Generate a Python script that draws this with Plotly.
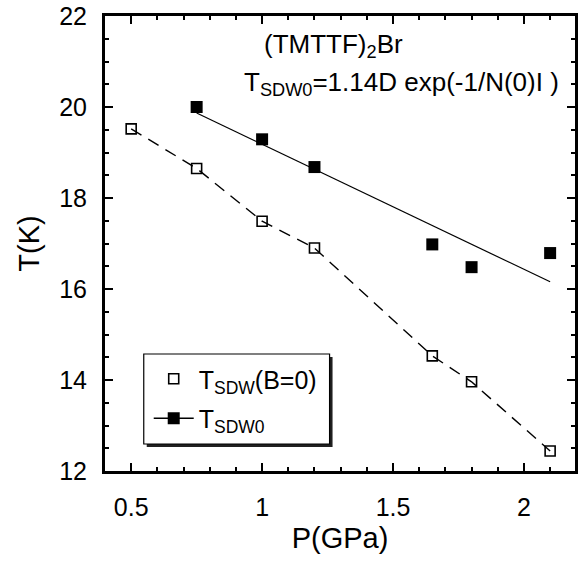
import numpy as np
import plotly.graph_objects as go

# Pressure (GPa) and SDW transition temperatures (K)
pressure_open = [0.5, 0.75, 1.0, 1.2, 1.65, 1.8, 2.1]
t_sdw_b0 = [19.52, 18.65, 17.49, 16.90, 14.53, 13.96, 12.44]

pressure_filled = [0.75, 1.0, 1.2, 1.65, 1.8, 2.1]
t_sdw0 = [20.0, 19.29, 18.68, 16.98, 16.48, 16.79]

x_tick_vals = [0.5, 1, 1.5, 2]
x_tick_text = ["0.5", "1", "1.5", "2"]
y_tick_vals = [12, 14, 16, 18, 20, 22]
y_tick_text = ["12", "14", "16", "18", "20", "22"]

FONT = "Liberation Sans, Arial, sans-serif"

# Plot-area geometry in pixels (used to place the legend frame and labels)
PLOT_L, PLOT_W = 105, 473
PLOT_T, PLOT_H = 16, 455
PLOT_B = PLOT_T + PLOT_H


def px_to_paper(px, py):
    return (px - PLOT_L) / PLOT_W, (PLOT_B - py) / PLOT_H


# Linear fit of T_SDW0 versus pressure
slope, intercept = np.polyfit(pressure_filled, t_sdw0, 1)
fit_x = np.array([min(pressure_filled), max(pressure_filled)])
fit_y = slope * fit_x + intercept

fig = go.Figure()

# Dashed guide through the zero-field points
fig.add_trace(go.Scatter(
    x=pressure_open, y=t_sdw_b0, mode="lines",
    line=dict(color="black", width=1.4, dash="12px,8px"),
    showlegend=False, hoverinfo="skip",
))

# Straight fit line for T_SDW0
fig.add_trace(go.Scatter(
    x=fit_x, y=fit_y, mode="lines",
    line=dict(color="black", width=1.2),
    showlegend=False, hoverinfo="skip",
))

fig.add_trace(go.Scatter(
    x=pressure_open, y=t_sdw_b0, mode="markers",
    name="T<sub>SDW</sub>(B=0)", legendgroup="open",
    marker=dict(symbol="square-open", size=10, color="black", line=dict(width=1.6, color="black")),
))

fig.add_trace(go.Scatter(
    x=pressure_filled, y=t_sdw0, mode="markers",
    showlegend=False,
    marker=dict(symbol="square", size=12, color="black"),
))

# Legend entry for T_SDW0 (line + filled square)
fig.add_trace(go.Scatter(
    x=[None], y=[None], mode="lines+markers",
    name="T<sub>SDW0</sub>", legendgroup="filled",
    line=dict(color="black", width=1.4),
    marker=dict(symbol="square", size=12, color="black"),
))

axis_common = dict(
    showline=True, linecolor="black", linewidth=3, mirror="ticks",
    ticks="inside", tickcolor="black", tickwidth=2, ticklen=8,
    showgrid=False, zeroline=False,
    tickfont=dict(family=FONT, size=25, color="black"),
)

fig.update_xaxes(
    range=[0.4, 2.195], tickvals=x_tick_vals, ticktext=x_tick_text,
    minor=dict(dtick=0.1, ticks="inside", ticklen=4, tickwidth=2, tickcolor="black"),
    title=dict(text="P(GPa)", font=dict(family=FONT, size=29, color="black"), standoff=8),
    ticklabelstandoff=12,
    **axis_common,
)
fig.update_yaxes(
    range=[12, 22], tickvals=y_tick_vals, ticktext=y_tick_text,
    minor=dict(dtick=0.5, ticks="inside", ticklen=4, tickwidth=2, tickcolor="black"),
    title=dict(text="T(K)", font=dict(family=FONT, size=29, color="black"), standoff=12),
    ticklabelstandoff=10,
    **axis_common,
)

# Legend frame with a drop shadow
bx0, by0 = px_to_paper(144, 444)
bx1, by1 = px_to_paper(331, 354)
sx0, sy0 = px_to_paper(147, 447)
sx1, sy1 = px_to_paper(334, 357)
fig.add_shape(type="rect", xref="paper", yref="paper",
              x0=sx0, x1=sx1, y0=sy0, y1=sy1,
              fillcolor="#202020", line=dict(width=0), layer="above")
fig.add_shape(type="rect", xref="paper", yref="paper",
              x0=bx0, x1=bx1, y0=by0, y1=by1,
              fillcolor="white", line=dict(width=1.2, color="black"), layer="above")

fig.add_annotation(
    text="(TMTTF)<sub>2</sub>Br", xref="paper", yref="paper",
    x=px_to_paper(263, 0)[0], y=px_to_paper(0, 46)[1],
    xanchor="left", yanchor="middle", showarrow=False,
    font=dict(family=FONT, size=26, color="black"),
)
fig.add_annotation(
    text="T<sub>SDW0</sub>=1.14D exp(-1/N(0)I )", xref="paper", yref="paper",
    x=px_to_paper(564, 0)[0], y=px_to_paper(0, 83)[1],
    xanchor="right", yanchor="middle", showarrow=False,
    font=dict(family=FONT, size=26, color="black"),
)

lx, ly = px_to_paper(149, 356)
fig.update_layout(
    width=579, height=564, autosize=False,
    margin=dict(l=PLOT_L, r=579 - PLOT_L - PLOT_W, t=PLOT_T, b=564 - PLOT_B),
    paper_bgcolor="white", plot_bgcolor="white",
    font=dict(family=FONT, color="black"),
    legend=dict(
        x=lx, y=ly, xanchor="left", yanchor="top",
        bgcolor="rgba(0,0,0,0)", borderwidth=0,
        font=dict(family=FONT, size=25, color="black"),
        itemwidth=40, traceorder="grouped", tracegroupgap=4,
    ),
)

fig.write_html("out.html")
